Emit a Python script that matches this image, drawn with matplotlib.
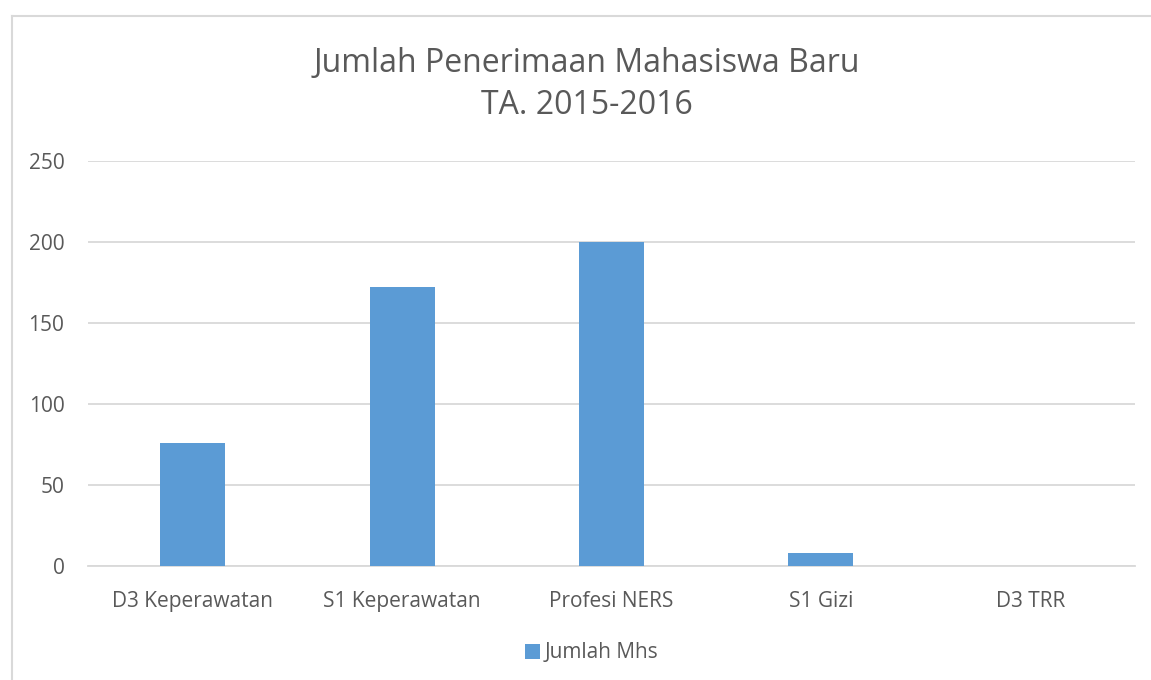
import matplotlib
matplotlib.use("Agg")
import matplotlib.pyplot as plt
from matplotlib.lines import Line2D
from matplotlib.patches import Patch

categories = ["D3 Keperawatan", "S1 Keperawatan", "Profesi NERS", "S1 Gizi", "D3 TRR"]
values = [76, 172, 200, 8, 0]
series_name = "Jumlah Mhs"
title_lines = ["Jumlah Penerimaan Mahasiswa Baru", "TA. 2015-2016"]
yticks = [0, 50, 100, 150, 200, 250]

W, H = 1151, 680
fig = plt.figure(figsize=(W / 100, H / 100), dpi=100)
plt.rcParams['font.family'] = ['Open Sans', 'DejaVu Sans']
text_color = "#595959"
bar_color = "#5B9BD5"
grid_color = "#D9D9D9"

left, right, top, bottom = 88, 1135, 161, 566
ax = fig.add_axes([left / W, 1 - bottom / H, (right - left) / W, (bottom - top) / H])
x = list(range(len(categories)))
ax.bar(x, values, width=0.31, color=bar_color, zorder=3)
ax.set_xlim(-0.5, len(categories) - 0.5)
ax.set_ylim(0, 250)
ax.set_yticks(yticks)
ax.set_xticks(x)
ax.set_xticklabels(categories)
ax.yaxis.grid(True, color=grid_color, linewidth=1.3, zorder=0)
for s in ["top", "right", "left"]:
    ax.spines[s].set_visible(False)
ax.spines["bottom"].set_color(grid_color)
ax.spines["bottom"].set_linewidth(1.3)
ax.tick_params(axis="both", length=0, colors=text_color, labelsize=15)
ax.tick_params(axis="x", pad=18)
ax.tick_params(axis="y", pad=17)

fig.text(587 / W, 1 - 63 / H, title_lines[0], ha="center", va="center", fontsize=23, color=text_color)
fig.text(587 / W, 1 - 105 / H, title_lines[1], ha="center", va="center", fontsize=23, color=text_color)

leg = fig.legend(handles=[Patch(facecolor=bar_color, label=series_name)], loc="center",
                 bbox_to_anchor=(592 / W, 1 - 653 / H), frameon=False, fontsize=15,
                 handlelength=0.7, handleheight=0.7, handletextpad=0.25)
for t in leg.get_texts():
    t.set_color(text_color)

fig.add_artist(Line2D([12 / W, 1.0], [1 - 16 / H, 1 - 16 / H], color=grid_color, linewidth=1.5))
fig.add_artist(Line2D([12 / W, 12 / W], [1 - 16 / H, 0.0], color=grid_color, linewidth=1.5))

fig.savefig("out.png", dpi=100)
